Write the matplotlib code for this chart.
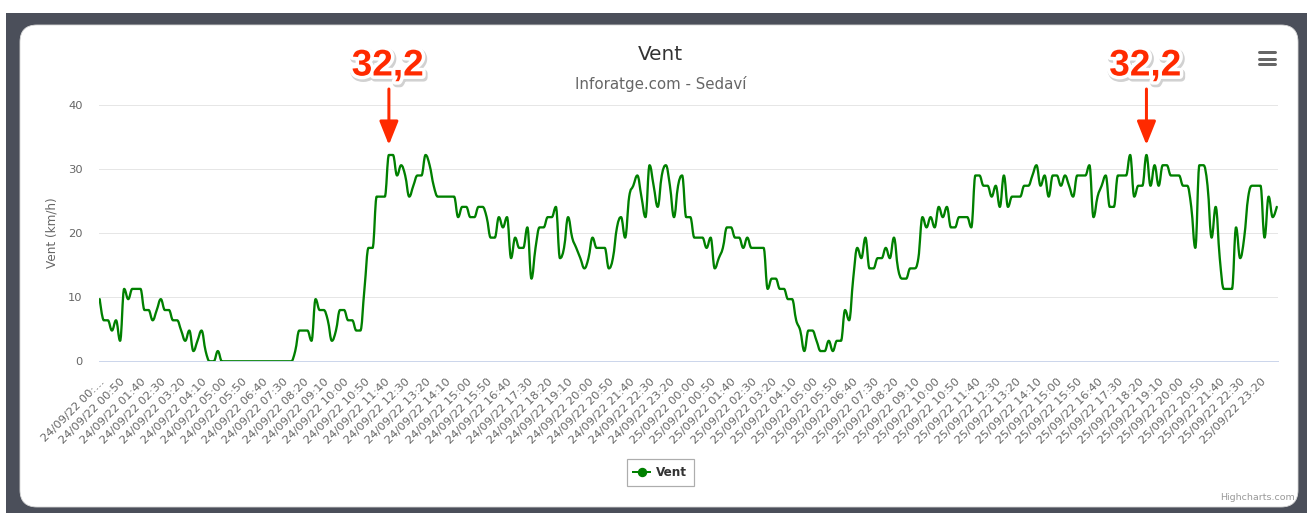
import matplotlib
matplotlib.use("Agg")
import matplotlib.pyplot as plt
import matplotlib.patheffects as pe
from matplotlib.path import Path
from matplotlib.patches import PathPatch, FancyBboxPatch, Rectangle
from matplotlib.lines import Line2D
from matplotlib.transforms import offset_copy

# ---------------- data ----------------
series_name = "Vent"
wind_kmh = [
    9.7, 6.4, 6.4, 4.8, 6.4, 3.2, 11.3, 9.7, 11.3, 11.3,
    11.3, 8.0, 8.0, 6.4, 8.0, 9.7, 8.0, 8.0, 6.4, 6.4,
    4.8, 3.2, 4.8, 1.6, 3.2, 4.8, 1.6, 0, 0, 1.6,
    0, 0, 0, 0, 0, 0, 0, 0, 0, 0,
    0, 0, 0, 0, 0, 0, 0, 0, 1.6, 4.8,
    4.8, 4.8, 3.2, 9.7, 8.0, 8.0, 6.4, 3.2, 4.8, 8.0,
    8.0, 6.4, 6.4, 4.8, 4.8, 11.3, 17.7, 17.7, 25.7, 25.7,
    25.7, 32.2, 32.2, 29.0, 30.6, 29.0, 25.7, 27.4, 29.0, 29.0,
    32.2, 30.6, 27.4, 25.7, 25.7, 25.7, 25.7, 25.7, 22.5, 24.1,
    24.1, 22.5, 22.5, 24.1, 24.1, 22.5, 19.3, 19.3, 22.5, 20.9,
    22.5, 16.1, 19.3, 17.7, 17.7, 20.9, 12.9, 17.7, 20.9, 20.9,
    22.5, 22.5, 24.1, 16.1, 17.7, 22.5, 19.3, 17.7, 16.1, 14.5,
    16.1, 19.3, 17.7, 17.7, 17.7, 14.5, 16.1, 20.9, 22.5, 19.3,
    25.7, 27.4, 29.0, 25.7, 22.5, 30.6, 27.4, 24.1, 29.0, 30.6,
    27.4, 22.5, 27.4, 29.0, 22.5, 22.5, 19.3, 19.3, 19.3, 17.7,
    19.3, 14.5, 16.1, 17.7, 20.9, 20.9, 19.3, 19.3, 17.7, 19.3,
    17.7, 17.7, 17.7, 17.7, 11.3, 12.9, 12.9, 11.3, 11.3, 9.7,
    9.7, 6.4, 4.8, 1.6, 4.8, 4.8, 3.2, 1.6, 1.6, 3.2,
    1.6, 3.2, 3.2, 8.0, 6.4, 12.9, 17.7, 16.1, 19.3, 14.5,
    14.5, 16.1, 16.1, 17.7, 16.1, 19.3, 14.5, 12.9, 12.9, 14.5,
    14.5, 16.1, 22.5, 20.9, 22.5, 20.9, 24.1, 22.5, 24.1, 20.9,
    20.9, 22.5, 22.5, 22.5, 20.9, 29.0, 29.0, 27.4, 27.4, 25.7,
    27.4, 24.1, 29.0, 24.1, 25.7, 25.7, 25.7, 27.4, 27.4, 29.0,
    30.6, 27.4, 29.0, 25.7, 29.0, 29.0, 27.4, 29.0, 27.4, 25.7,
    29.0, 29.0, 29.0, 30.6, 22.5, 25.7, 27.4, 29.0, 24.1, 24.1,
    29.0, 29.0, 29.0, 32.2, 25.7, 27.4, 27.4, 32.2, 27.4, 30.6,
    27.4, 30.6, 30.6, 29.0, 29.0, 29.0, 27.4, 27.4, 24.1, 17.7,
    30.6, 30.6, 27.4, 19.3, 24.1, 16.1, 11.3, 11.3, 11.3, 20.9,
    16.1, 19.3, 25.7, 27.4, 27.4, 27.4, 19.3, 25.7, 22.5, 24.1,
]
label_dates = ["24/09/22", "25/09/22"]
label_times = ["00:00", "00:50", "01:40", "02:30", "03:20", "04:10", "05:00",
               "05:50", "06:40", "07:30", "08:20", "09:10", "10:00", "10:50",
               "11:40", "12:30", "13:20", "14:10", "15:00", "15:50", "16:40",
               "17:30", "18:20", "19:10", "20:00", "20:50", "21:40", "22:30",
               "23:20"]
label_step = 5
y_ticks = [0, 10, 20, 30, 40]
title = "Vent"
subtitle = "Inforatge.com - Sedaví"
y_title = "Vent (km/h)"
annot_index = [71, 257]
annot_text = ["32,2", "32,2"]

# ---------------- figure ----------------
W, H, DPI = 1307, 513, 100
fig = plt.figure(figsize=(W / DPI, H / DPI), dpi=DPI, facecolor="white")
plt.rcParams["font.family"] = ["DejaVu Sans"]

def px(v):
    return v * 72.0 / DPI

# dark frame and white rounded card (pixel coords, top origin)
fig.patches.append(Rectangle((6 / DPI, 0), (W - 6) / DPI, (H - 13) / DPI,
                             transform=fig.dpi_scale_trans, facecolor="#4b4f5a",
                             edgecolor="none", zorder=0))
cx0, cy0, cx1, cy1 = 20, 25, 1298, 507
fig.patches.append(FancyBboxPatch((cx0 / DPI, (H - cy1) / DPI), (cx1 - cx0) / DPI,
                                  (cy1 - cy0) / DPI,
                                  boxstyle="round,pad=0,rounding_size=0.17",
                                  transform=fig.dpi_scale_trans, facecolor="white",
                                  edgecolor="#d8d8d8", linewidth=0.6, zorder=1))

# plot area
L, R, T, B = 98.5, 1278, 105, 361.3
ax = fig.add_axes([L / W, 1 - B / H, (R - L) / W, (B - T) / H])
ax.set_facecolor("none")
ax.set_zorder(3)

n = len(wind_kmh)
xs = list(range(n))

# Highcharts-style spline path
def spline_path(x, y, smoothing=1.5):
    denom = smoothing + 1
    rc = [None] * len(x)
    lc = [None] * len(x)
    for i in range(len(x)):
        if 0 < i < len(x) - 1:
            px_, py_ = x[i], y[i]
            lx, ly = x[i - 1], y[i - 1]
            nx, ny = x[i + 1], y[i + 1]
            lcx = (smoothing * px_ + lx) / denom
            lcy = (smoothing * py_ + ly) / denom
            rcx = (smoothing * px_ + nx) / denom
            rcy = (smoothing * py_ + ny) / denom
            if rcx != lcx:
                corr = (rcy - lcy) * (rcx - px_) / (rcx - lcx) + py_ - rcy
                lcy += corr
                rcy += corr
                if lcy > ly and lcy > py_:
                    lcy = max(ly, py_)
                    rcy = 2 * py_ - lcy
                elif lcy < ly and lcy < py_:
                    lcy = min(ly, py_)
                    rcy = 2 * py_ - lcy
                if rcy > ny and rcy > py_:
                    rcy = max(ny, py_)
                    lcy = 2 * py_ - rcy
                elif rcy < ny and rcy < py_:
                    rcy = min(ny, py_)
                    lcy = 2 * py_ - rcy
            lc[i] = (lcx, lcy)
            rc[i] = (rcx, rcy)
        else:
            lc[i] = (x[i], y[i])
            rc[i] = (x[i], y[i])
    verts = [(x[0], y[0])]
    codes = [Path.MOVETO]
    for i in range(1, len(x)):
        verts += [rc[i - 1], lc[i], (x[i], y[i])]
        codes += [Path.CURVE4] * 3
    return Path(verts, codes)

green = "#008000"
ax.add_patch(PathPatch(spline_path(xs, wind_kmh), facecolor="none", edgecolor=green,
                       linewidth=px(2.3), capstyle="round", joinstyle="round", zorder=4))

ax.set_xlim(-0.3, n - 1 + 0.3)
ax.set_ylim(0, 40)
ax.set_yticks(y_ticks)
ax.set_yticklabels([str(v) for v in y_ticks])
for s in ["top", "right", "left"]:
    ax.spines[s].set_visible(False)
ax.spines["bottom"].set_color("#ccd6eb")
ax.spines["bottom"].set_linewidth(px(1))
ax.grid(axis="y", color="#e6e6e6", linewidth=px(1))
ax.set_axisbelow(True)

tick_pos = list(range(0, n, label_step))
tick_labels = [f"{d} {t}" for d in label_dates for t in label_times][:len(tick_pos)]
tick_labels[0] = label_dates[0] + " 00:…"
ax.set_xticks(tick_pos)
ax.set_xticklabels(tick_labels, rotation=45, ha="right", va="top",
                   rotation_mode="anchor", color="#666666", fontsize=px(11.5))
ax.tick_params(axis="x", length=0, pad=px(15))
ax.tick_params(axis="y", length=0, pad=px(16), labelcolor="#666666", labelsize=px(11.5))

ax.set_ylabel(y_title, color="#666666", fontsize=px(12))
ax.yaxis.set_label_coords((52 - L) / (R - L), 0.5)
ax.yaxis.label.set_verticalalignment("center")

# titles
fig.text(660 / W, 1 - 54 / H, title, ha="center", va="center",
         fontsize=px(20), color="#333333")
fig.text(661 / W, 1 - 83.5 / H, subtitle, ha="center", va="center",
         fontsize=px(15), color="#666666")

# hamburger menu
for yy in (52.5, 58.5, 64.5):
    fig.lines.append(Line2D([1258.5 / DPI, 1274.5 / DPI], [(H - yy) / DPI] * 2,
                            transform=fig.dpi_scale_trans, color="#666666",
                            linewidth=px(3), solid_capstyle="round", zorder=5))

# credits
fig.text(1295 / W, 1 - 498 / H, "Highcharts.com", ha="right", va="center",
         fontsize=px(9.5), color="#999999")

# legend
handle = Line2D([], [], color=green, linewidth=px(2), marker="o",
                markersize=px(8), markerfacecolor=green, markeredgecolor=green)
leg = fig.legend([handle], [series_name], loc="center",
                 bbox_to_anchor=(660 / W, 1 - 472.5 / H), frameon=True,
                 fancybox=False, edgecolor="#999999", handlelength=1.4,
                 handletextpad=0.5, borderpad=0.55, borderaxespad=0,
                 prop={"size": px(12), "weight": "bold"})
leg.get_frame().set_linewidth(px(1.2))
for t in leg.get_texts():
    t.set_color("#333333")

# annotations
red = "#ff2a00"
for idx, txt in zip(annot_index, annot_text):
    val = wind_kmh[idx]
    tip = offset_copy(ax.transData, fig=fig, x=0, y=10, units="dots")
    ax.annotate("", xy=(idx, val), xycoords=tip, xytext=(0, 56),
                textcoords="offset pixels", annotation_clip=False,
                arrowprops=dict(arrowstyle="-|>,head_length=%f,head_width=%f" % (px(20), px(8)),
                                color=red, lw=px(3), shrinkA=0, shrinkB=0,
                                mutation_scale=1))
    ax.annotate(txt, xy=(idx, val), xytext=(-1, 89), textcoords="offset pixels",
                ha="center", va="center", annotation_clip=False,
                family=["Liberation Sans", "DejaVu Sans"], fontweight="bold",
                fontsize=px(37), color=red, zorder=6,
                path_effects=[pe.Stroke(linewidth=px(8), foreground="#000000",
                                        alpha=0.18, offset=(1, -1.5)),
                              pe.Stroke(linewidth=px(7), foreground="white"),
                              pe.Normal()])

fig.savefig("out.png", dpi=DPI, facecolor="white")
